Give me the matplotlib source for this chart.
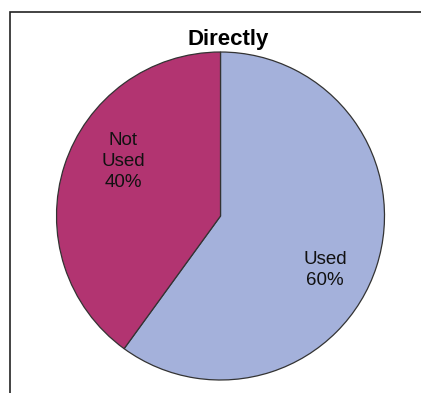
import matplotlib
matplotlib.use('Agg')
import matplotlib.pyplot as plt
from matplotlib.patches import Rectangle

labels = ['Used', 'Not\nUsed']
shares = [60, 40]
colors = ['#a4b1db', '#b23471']
title = 'Directly'

W, H = 421, 393
fig = plt.figure(figsize=(W / 100, H / 100), dpi=100)
plt.rcParams['font.family'] = ['Liberation Sans', 'DejaVu Sans']

# outer frame, only the left and top edges are visible in the picture
fig.patches.append(Rectangle((10 / W, -0.1), 1.2, (H - 12) / H + 0.1,
                             transform=fig.transFigure, fill=False,
                             edgecolor='#222222', lw=1.2))

# pie center ~ (220, 216) px, radius ~164 px
cx, cy, r = 220.5, 216, 164
ax = fig.add_axes([(cx - r) / W, (H - cy - r) / H, 2 * r / W, 2 * r / H])
wedges, _ = ax.pie(shares, colors=colors, startangle=90, counterclock=False,
                   wedgeprops=dict(edgecolor='#333333', linewidth=0.9))
ax.set_xlim(-1, 1)
ax.set_ylim(-1, 1)
ax.set_aspect('equal')
ax.axis('off')

label_pos = [(0.637, -0.332), (-0.595, 0.33)]
for lab, val, (x, y) in zip(labels, shares, label_pos):
    ax.text(x, y, f'{lab}\n{val}%', ha='center', va='center',
            fontsize=13.5, linespacing=1.3, color='#111111')

fig.text(228 / W, 1 - 45 / H, title, ha='center', va='baseline',
         fontsize=16, fontweight='bold')

fig.savefig('out.png', dpi=100)
